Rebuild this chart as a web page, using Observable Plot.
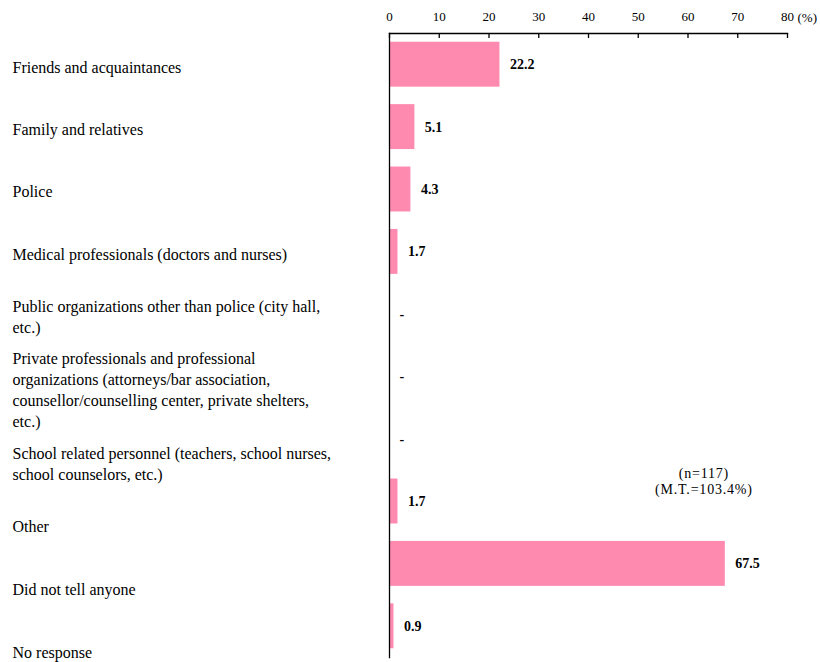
<!DOCTYPE html>
<html><head><meta charset="utf-8">
<script src="https://cdn.jsdelivr.net/npm/d3@7"></script>
<script src="https://cdn.jsdelivr.net/npm/@observablehq/plot@0.6"></script>
<style>
body{margin:0;background:#fff}
#chart{width:820px;height:662px}
#chart svg, #chart svg text{font-family:"Liberation Serif","Times New Roman",serif !important;}
</style>
</head><body><div id="chart"></div>
<script>
const categories = [
  "Friends and acquaintances",
  "Family and relatives",
  "Police",
  "Medical professionals (doctors and nurses)",
  "Public organizations other than police (city hall,\netc.)",
  "Private professionals and professional\norganizations (attorneys/bar association,\ncounsellor/counselling center, private shelters,\netc.)",
  "School related personnel (teachers, school nurses,\nschool counselors, etc.)",
  "Other",
  "Did not tell anyone",
  "No response"
];
const values = [22.2, 5.1, 4.3, 1.7, null, null, null, 1.7, 67.5, 0.9];
const xTicks = [0, 10, 20, 30, 40, 50, 60, 70, 80];
const unitLabel = "(%)";
const noteText = "(n=117)\n(M.T.=103.4%)";

// layout tweak: category labels in the source sit slightly below their bars further down
const labelNudge = [2, 1, 1, 1, 1, 12, 24, 24, 24, 25];

const data = categories.map((c, i) => ({category: c, value: values[i], i}));
const serif = "'Liberation Serif', 'Times New Roman', serif";
const pink = "#FF8AB0";

const labelMarks = [...new Set(labelNudge)].map(n =>
  Plot.text(data.filter(d => labelNudge[d.i] === n), {
    y: "category", frameAnchor: "left", dx: -377, dy: n, textAnchor: "start",
    lineAnchor: "middle", text: "category", lineHeight: 1.3125, fontSize: 16, fontFamily: serif
  })
);

const chart = Plot.plot({
  width: 820, height: 662,
  marginTop: 33, marginBottom: 5, marginLeft: 389, marginRight: 33,
  style: {fontFamily: serif, fontSize: "13px", background: "#fff", color: "#000"},
  x: {domain: [0, 80]},
  y: {domain: categories, axis: null, paddingInner: 0.28, paddingOuter: 0.14, round: false},
  marks: [
    Plot.barX(data.filter(d => d.value != null), {x: "value", y: "category", fill: pink}),
    Plot.frame({anchor: "top", stroke: "#000", strokeWidth: 1.3}),
    Plot.frame({anchor: "left", stroke: "#000", strokeWidth: 1.3}),
    Plot.ruleX(xTicks, {x: d => d, insetBottom: 619, stroke: "#000", strokeWidth: 1.3}),
    Plot.axisX({anchor: "top", ticks: xTicks, tickSize: 0, tickPadding: 13, label: null, fontSize: 13, fontFamily: serif, tickFormat: d => String(d)}),
    Plot.text([unitLabel], {frameAnchor: "top-right", dx: 10, dy: -16, textAnchor: "start", lineAnchor: "middle", fontSize: 13, fontFamily: serif}),
    Plot.text(data, {
      x: d => d.value ?? 0, y: "category",
      text: d => d.value == null ? "-" : d.value.toFixed(1),
      textAnchor: "start", dx: 10, fontWeight: "bold", fontSize: 14, fontFamily: serif
    }),
    ...labelMarks,
    Plot.text([noteText], {x: () => 63.2, y: () => categories[7], dy: -21, textAnchor: "middle", fontSize: 14, lineHeight: 1.14, fontFamily: serif})
  ]
});
// the source's note is set with loose letter spacing
d3.select(chart).selectAll("text")
  .filter(function() { return this.textContent.includes("n=117"); })
  .style("letter-spacing", "0.8px");
document.getElementById("chart").append(chart);
</script>
</body></html>
